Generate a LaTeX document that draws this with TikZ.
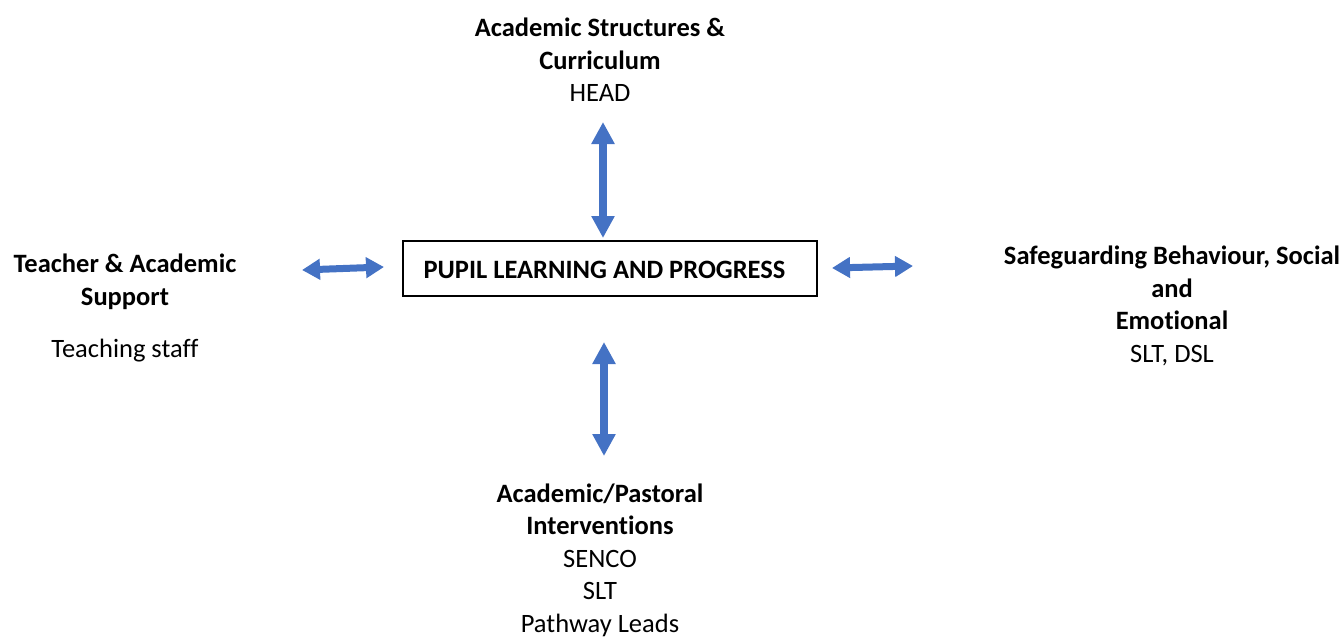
\documentclass[tikz,border=0pt]{standalone}
\usepackage{fontspec}
\setmainfont{Carlito}[Ligatures=NoCommon]
\usetikzlibrary{arrows.meta}
\definecolor{arrowblue}{HTML}{4472C4}
\tikzset{
  lbl/.style={align=center, inner sep=0pt, font=\fontsize{26.5}{32.5}\selectfont},
  dblv/.style={draw=arrowblue, line width=8pt, {Triangle[length=22pt,width=22pt]}-{Triangle[length=22pt,width=22pt]}},
  dblh/.style={draw=arrowblue, line width=7pt, {Triangle[length=18pt,width=20pt]}-{Triangle[length=18pt,width=20pt]}},
  centrebox/.style={draw=black, line width=1.3pt, minimum width=414pt, minimum height=55pt, inner sep=0pt}
}
\begin{document}
\begin{tikzpicture}[x=1pt,y=-1pt]
\useasboundingbox (0,0) rectangle (1344,637);
% central box
\node[centrebox] (box) at (610,268.5) {};
\node[lbl, font=\fontsize{26.5}{30}\selectfont\bfseries] (boxtext) at (604.5,270) {PUPIL LEARNING AND PROGRESS};
% labels
\node[lbl] (top) at (600,60) {\textbf{Academic Structures \&}\\\textbf{Curriculum}\\HEAD};
\node[lbl] (left) at (125,308) {\textbf{Teacher \& Academic}\\\textbf{Support}\\[20pt]Teaching staff};
\node[lbl] (right) at (1172,306) {\textbf{Safeguarding Behaviour, Social}\\\textbf{and}\\\textbf{Emotional}\\SLT, DSL};
\node[lbl] (bottom) at (600,560) {\textbf{Academic/Pastoral}\\\textbf{Interventions}\\SENCO\\SLT\\Pathway Leads};
% arrow end points
\coordinate (t1) at (603,122);
\coordinate (t2) at (603,238);
\coordinate (b1) at (604,342);
\coordinate (b2) at (604,456);
\coordinate (l1) at (302,270);
\coordinate (l2) at (384,267);
\coordinate (r1) at (832,268);
\coordinate (r2) at (913,266);
\draw[dblv] (t1) -- (t2);
\draw[dblv] (b1) -- (b2);
\draw[dblh] (l1) -- (l2);
\draw[dblh] (r1) -- (r2);
\end{tikzpicture}
\end{document}
